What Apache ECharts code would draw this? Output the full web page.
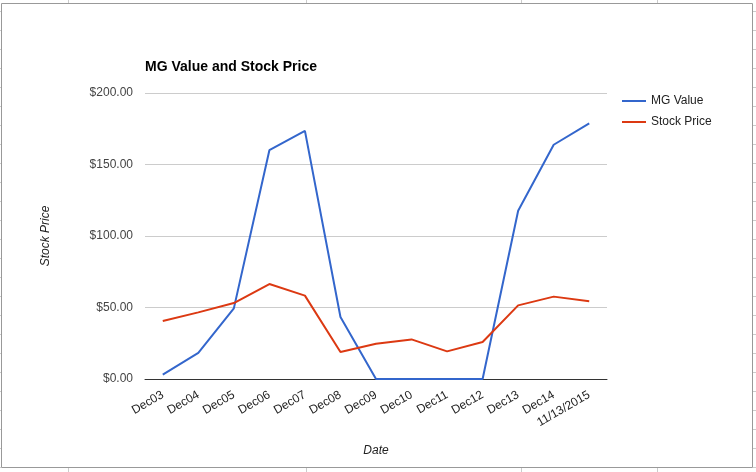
<!DOCTYPE html>
<html><head><meta charset="utf-8">
<script src="https://cdn.jsdelivr.net/npm/echarts@6/dist/echarts.min.js"></script>
<style>html,body{margin:0;padding:0;background:#fff}#c{width:756px;height:472px}</style>
</head><body><div id="c"></div>
<script>
const categories = ['Dec03','Dec04','Dec05','Dec06','Dec07','Dec08','Dec09','Dec10','Dec11','Dec12','Dec13','Dec14','11/13/2015'];
const mgValue = [3, 18.2, 49.4, 160, 173.5, 43.4, 0, 0, 0, 0, 117.7, 163.8, 178.7];
const stockPrice = [40.5, 46.6, 53.1, 66.4, 58.3, 18.9, 24.7, 27.7, 19.3, 25.9, 51.5, 57.6, 54.3];
const yTicks = [0, 50, 100, 150, 200];

const chart = echarts.init(document.getElementById('c'));
const font = 'Arial, "Liberation Sans", sans-serif';

// spreadsheet frame decoration
const deco = [{ type: 'rect', shape: { x: 1.5, y: 3.5, width: 751, height: 464 }, style: { fill: 'none', stroke: '#999', lineWidth: 1 }, silent: true }];
for (let y = 11.5; y < 468; y += 19) {
  deco.push({ type: 'line', shape: { x1: 0, y1: y, x2: 1, y2: y }, style: { stroke: '#ccc', lineWidth: 1 }, silent: true });
  deco.push({ type: 'line', shape: { x1: 753, y1: y, x2: 756, y2: y }, style: { stroke: '#ccc', lineWidth: 1 }, silent: true });
}
[68.5, 306.5, 521.5, 657.5].forEach(x => {
  deco.push({ type: 'line', shape: { x1: x, y1: 0, x2: x, y2: 3 }, style: { stroke: '#ccc', lineWidth: 1 }, silent: true });
  deco.push({ type: 'line', shape: { x1: x, y1: 468, x2: x, y2: 472 }, style: { stroke: '#ccc', lineWidth: 1 }, silent: true });
});

chart.setOption({
  animation: false,
  textStyle: { fontFamily: font },
  title: { text: 'MG Value and Stock Price', left: 140, top: 55,
    textStyle: { fontSize: 14, fontWeight: 'bold', color: '#000', fontFamily: font } },
  legend: { orient: 'vertical', left: 617, top: 90, itemGap: 9, itemWidth: 24, itemHeight: 2,
    icon: 'rect', textStyle: { fontSize: 12, color: '#222', fontFamily: font },
    data: ['MG Value', 'Stock Price'] },
  grid: { left: 145, right: 149, top: 93, bottom: 93, containLabel: false },
  xAxis: { type: 'category', data: categories, boundaryGap: true,
    name: 'Date', nameLocation: 'middle', nameGap: 66,
    nameTextStyle: { fontStyle: 'italic', fontSize: 12, color: '#222', fontFamily: font },
    axisLine: { lineStyle: { color: '#333', width: 1 } }, axisTick: { show: false },
    axisLabel: { rotate: 30, interval: 0, fontSize: 12, color: '#222', margin: 15, fontFamily: font } },
  yAxis: { type: 'value', min: yTicks[0], max: yTicks[yTicks.length-1], interval: 50,
    name: 'Stock Price', nameLocation: 'middle', nameGap: 93, nameRotate: 90,
    nameTextStyle: { fontStyle: 'italic', fontSize: 12, color: '#222', fontFamily: font },
    axisLine: { show: false }, axisTick: { show: false },
    axisLabel: { fontSize: 12, color: '#444', margin: 12, fontFamily: font,
      formatter: v => '$' + v.toFixed(2) },
    splitLine: { lineStyle: { color: '#ccc' } } },
  series: [
    { name: 'MG Value', type: 'line', data: mgValue, symbol: 'none', lineStyle: { width: 2, color: '#3366cc' }, itemStyle: { color: '#3366cc' } },
    { name: 'Stock Price', type: 'line', data: stockPrice, symbol: 'none', lineStyle: { width: 2, color: '#dc3912' }, itemStyle: { color: '#dc3912' } }
  ],
  graphic: deco
});
</script></body></html>
